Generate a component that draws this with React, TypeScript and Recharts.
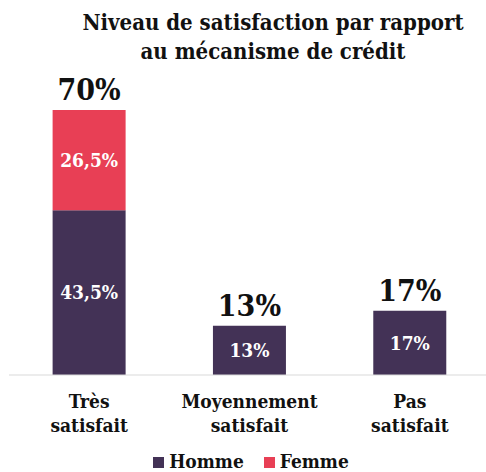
import { BarChart, Bar, XAxis, YAxis, LabelList } from 'recharts'

const categories = ['Très satisfait', 'Moyennement satisfait', 'Pas satisfait']
const homme = [43.5, 13, 17]
const femme = [26.5, 0, 0]
const totals = [70, 13, 17]
const seriesNames = ['Homme', 'Femme']
const colors = ['#433256', '#E83F55']

const data = categories.map((name, i) => ({ name, homme: homme[i], femme: femme[i], total: totals[i] }))

const FONT = '"DejaVu Serif Condensed", "DejaVu Serif", serif'

const pct = (v: unknown) => {
  const n = Number(v)
  if (!n) return ''
  return String(n).replace('.', ',') + '%'
}

function CategoryTick({ x, y, payload }: any) {
  const lines = String(payload.value).split(' ')
  return (
    <text x={x} y={y} textAnchor="middle" fontFamily={FONT} fontWeight={700} fontSize={19} fill="#111">
      {lines.map((l, i) => (
        <tspan key={i} x={x} dy={i === 0 ? 33 : 24}>{l}</tspan>
      ))}
    </text>
  )
}

// total above the stack: the Homme bar's pixel height gives the scale for the Femme part on top
function TotalLabel(props: any) {
  const vb = props.viewBox ?? props
  const i = props.index
  if (i == null || !homme[i]) return null
  const perUnit = vb.height / homme[i]
  const top = vb.y - femme[i] * perUnit
  return (
    <text x={vb.x + vb.width / 2} y={top - 10} textAnchor="middle" fontFamily={FONT} fontWeight={700} fontSize={30} fill="#111">
      {totals[i]}%
    </text>
  )
}

export default function App() {
  return (
    <div style={{ position: 'absolute', left: 0, top: 0, width: 486, height: 472, overflow: 'hidden', background: '#fff', fontFamily: FONT }}>
      <div style={{ position: 'absolute', left: 60, top: 8, width: 426, textAlign: 'center', fontWeight: 700, fontSize: 22, lineHeight: '29px', color: '#111' }}>
        Niveau de satisfaction par rapport<br />au mécanisme de crédit
      </div>
      <BarChart width={490} height={472} data={data} margin={{ top: 110, right: 0, bottom: 67, left: 9 }} barCategoryGap="27.2%">
        <XAxis dataKey="name" height={30} axisLine={{ stroke: '#d9d9d9' }} tickLine={false} tickSize={0} tickMargin={0} tick={<CategoryTick />} interval={0} />
        <YAxis hide domain={[0, 70]} />
        <Bar dataKey="homme" stackId="a" fill={colors[0]} isAnimationActive={false}>
          <LabelList dataKey="homme" position="center" formatter={pct} fill="#fff" fontFamily={FONT} fontWeight={700} fontSize={19} />
          <LabelList dataKey="total" content={<TotalLabel />} />
        </Bar>
        <Bar dataKey="femme" stackId="a" fill={colors[1]} isAnimationActive={false}>
          <LabelList dataKey="femme" position="center" formatter={pct} fill="#fff" fontFamily={FONT} fontWeight={700} fontSize={19} />
        </Bar>
      </BarChart>
      <div style={{ position: 'absolute', left: 0, top: 449, width: 486, height: 23, display: 'flex', justifyContent: 'center', alignItems: 'center', gap: 20, fontWeight: 700, fontSize: 19, lineHeight: '22px', color: '#111' }}>
        {seriesNames.map((s, i) => (
          <div key={s} style={{ display: 'flex', alignItems: 'center', marginLeft: i === 0 ? 16 : 0 }}>
            <span style={{ width: 11, height: 11, background: colors[i], marginRight: 5, marginTop: 3 }} />
            <span>{s}</span>
          </div>
        ))}
      </div>
    </div>
  )
}
